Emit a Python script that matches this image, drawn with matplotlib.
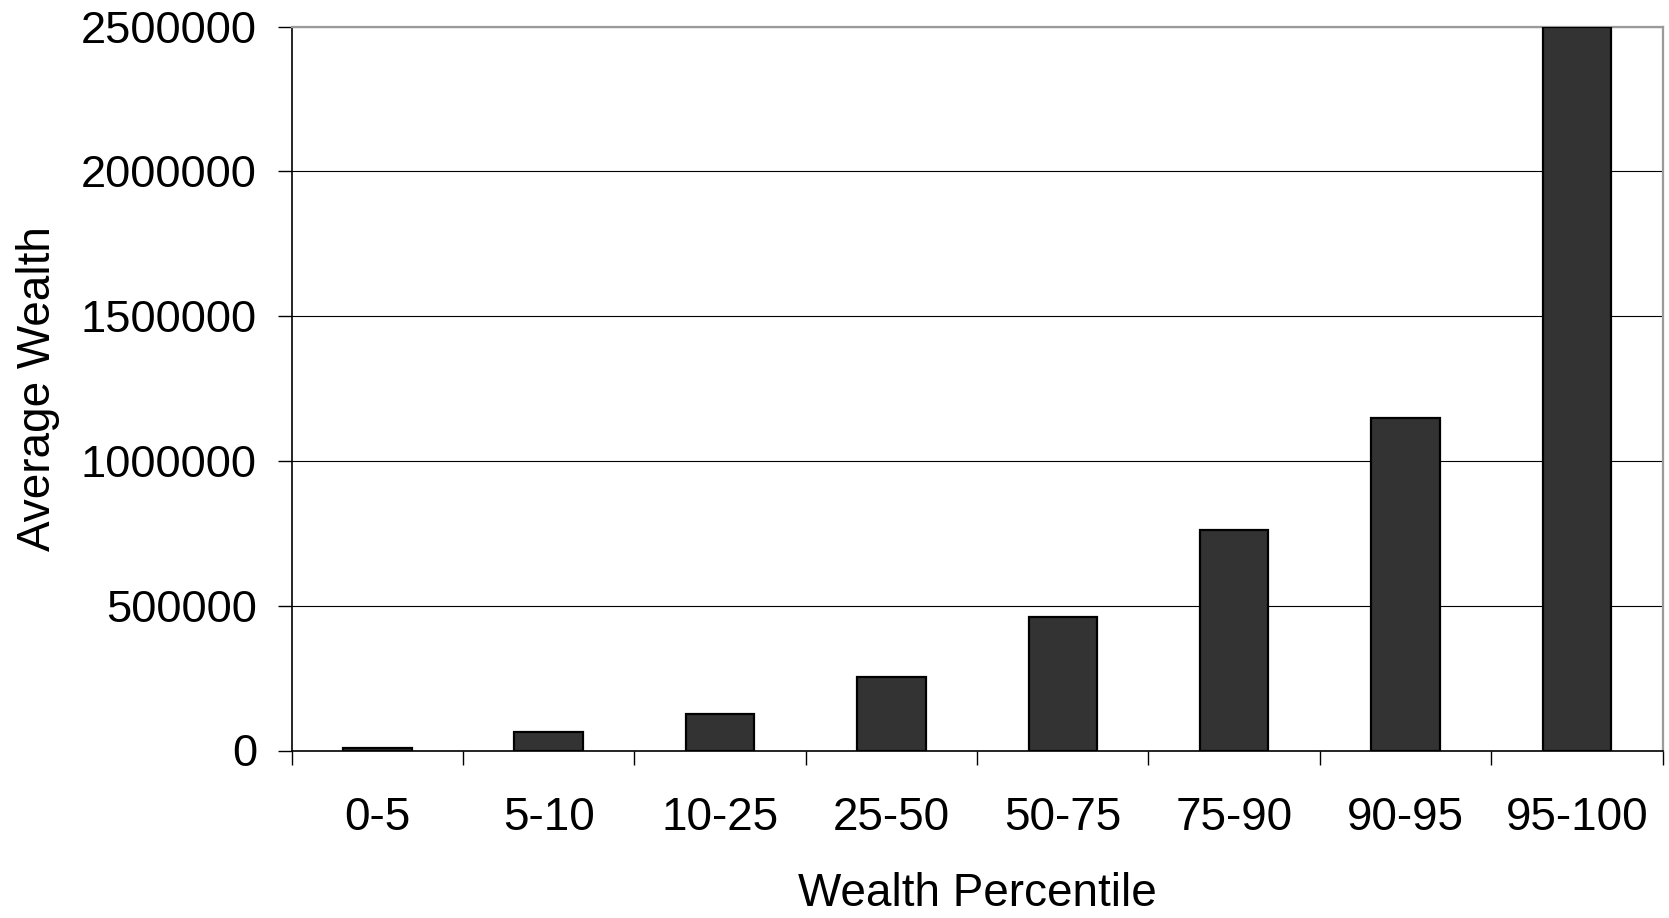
import matplotlib
matplotlib.use("Agg")
import matplotlib.pyplot as plt
import numpy as np

# Average household wealth by wealth percentile group
categories = ["0-5", "5-10", "10-25", "25-50", "50-75", "75-90", "90-95", "95-100"]
avg_wealth = [8000, 63000, 125000, 253000, 462000, 761000, 1148000, 2500000]
y_ticks = [0, 500000, 1000000, 1500000, 2000000, 2500000]

plt.rcParams["font.family"] = ["Liberation Sans", "DejaVu Sans"]

W, H = 1669, 918
fig = plt.figure(figsize=(W / 100, H / 100), dpi=100)
left, right, top, bottom = 291.6, 1662.6, 26.6, 750.5
ax = fig.add_axes([left / W, 1 - bottom / H, (right - left) / W, (bottom - top) / H])

x = np.arange(len(categories))
ax.bar(x, avg_wealth, width=0.4, color="#333333", edgecolor="black",
       linewidth=1.6, zorder=3)

ax.set_xlim(-0.5, len(categories) - 0.5)
ax.set_ylim(0, 2500000)

# horizontal gridlines
ax.set_yticks(y_ticks)
ax.set_yticklabels([str(v) for v in y_ticks])
ax.yaxis.grid(True, color="black", linewidth=0.8, zorder=1)
ax.set_axisbelow(True)

# category labels centred under bars, tick marks on the boundaries
ax.set_xticks(x)
ax.set_xticklabels(categories)
ax.set_xticks(np.arange(len(categories) + 1) - 0.5, minor=True)
ax.tick_params(axis="x", which="major", length=0, pad=33, labelsize=33)
ax.tick_params(axis="x", which="minor", length=10, width=1.0, direction="out",
               color="black")
ax.tick_params(axis="y", which="major", length=10, width=1.0, direction="out",
               pad=15, labelsize=32.6, color="black")

for side in ("left", "bottom"):
    ax.spines[side].set_color("black")
    ax.spines[side].set_linewidth(1.2)
for side in ("top", "right"):
    ax.spines[side].set_color("#9a9a9a")
    ax.spines[side].set_linewidth(1.6)

fig.text(977 / W, 1 - 906 / H, "Wealth Percentile", fontsize=33,
         ha="center", va="baseline")
fig.text(50 / W, 1 - 388.5 / H, "Average Wealth", fontsize=33, rotation=90,
         rotation_mode="anchor", ha="center", va="baseline")

fig.savefig("out.png", dpi=100, facecolor="white")
